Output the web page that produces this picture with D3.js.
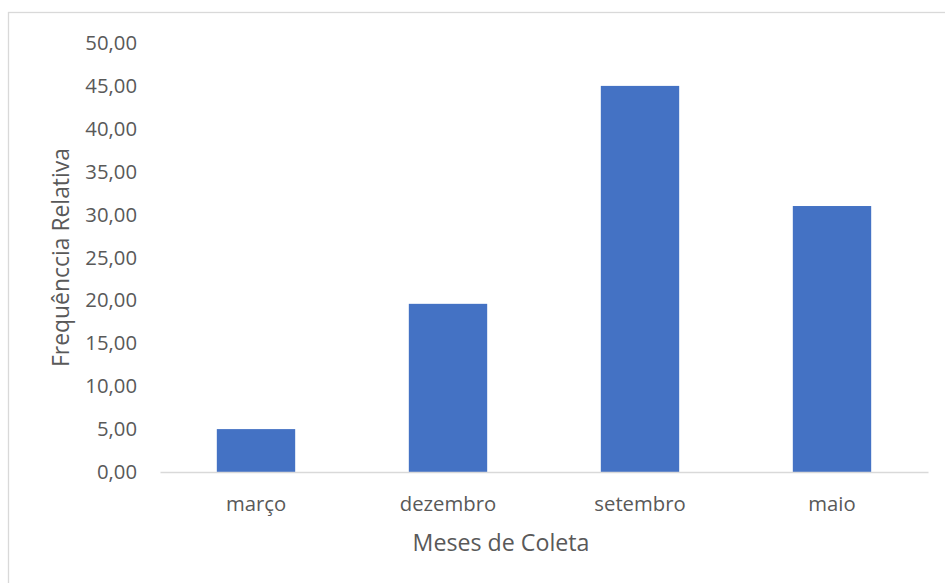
<!DOCTYPE html>
<html>
<head>
<meta charset="utf-8">
<script src="https://cdn.jsdelivr.net/npm/d3@7/dist/d3.min.js"></script>
<style>
  html, body { margin: 0; padding: 0; background: #ffffff; }
  svg { display: block; }
  text { font-family: "Open Sans", "Noto Sans", sans-serif; fill: #595959; }
</style>
</head>
<body>
<svg id="chart" width="945" height="583"></svg>
<script>
// ---- data ----
const categories = ["março", "dezembro", "setembro", "maio"];
const values = [5.0, 19.6, 45.0, 31.0];
const yTicks = [0, 5, 10, 15, 20, 25, 30, 35, 40, 45, 50];
const xTitle = "Meses de Coleta";
const yTitle = "Frequênccia Relativa";

// ---- layout ----
const W = 945, H = 583;
const plot = { left: 160, right: 928, top: 43, bottom: 472 };
const svg = d3.select("#chart");

// chart area border (right/bottom edges fall outside the picture)
svg.append("rect")
  .attr("x", 8.5).attr("y", 12.5)
  .attr("width", W + 10).attr("height", H + 10)
  .attr("fill", "#ffffff")
  .attr("stroke", "#d9d9d9").attr("stroke-width", 1.3);

const gap = 1.45; // Excel gap width 145%
const x = d3.scaleBand()
  .domain(categories)
  .range([plot.left, plot.right])
  .paddingInner(gap / (1 + gap))
  .paddingOuter(gap / (1 + gap) / 2);

const y = d3.scaleLinear().domain([0, 50]).range([plot.bottom, plot.top]);

const fmt = v => d3.format(".2f")(v).replace(".", ",");

// y axis labels
const yAxis = svg.append("g")
  .attr("transform", `translate(${plot.left},0)`)
  .call(d3.axisLeft(y).tickValues(yTicks).tickFormat(fmt).tickSize(0).tickPadding(23));
yAxis.select(".domain").remove();
yAxis.selectAll("text")
  .attr("font-family", "Open Sans, sans-serif")
  .attr("font-size", 20.3)
  .attr("fill", "#595959");

// bars
svg.append("g").selectAll("rect")
  .data(categories.map((c, i) => ({ c, v: values[i] })))
  .join("rect")
  .attr("x", d => x(d.c))
  .attr("width", x.bandwidth())
  .attr("y", d => y(d.v))
  .attr("height", d => y(0) - y(d.v))
  .attr("fill", "#4472c4");

// x axis
const xAxis = svg.append("g")
  .attr("transform", `translate(0,${plot.bottom})`)
  .call(d3.axisBottom(x).tickSize(0).tickPadding(0));
xAxis.select(".domain")
  .attr("stroke", "#d9d9d9").attr("stroke-width", 1.5);
xAxis.selectAll("text")
  .attr("font-family", "Open Sans, sans-serif")
  .attr("font-size", 20.3)
  .attr("fill", "#595959")
  .attr("dy", null)
  .attr("y", 39);

// axis titles
svg.append("text")
  .attr("x", 501).attr("y", 551)
  .attr("text-anchor", "middle")
  .attr("font-size", 23.2)
  .text(xTitle);

svg.append("text")
  .attr("transform", `translate(69,${(plot.top + plot.bottom) / 2}) rotate(-90)`)
  .attr("text-anchor", "middle")
  .attr("font-size", 22.9)
  .text(yTitle);
</script>
</body>
</html>
